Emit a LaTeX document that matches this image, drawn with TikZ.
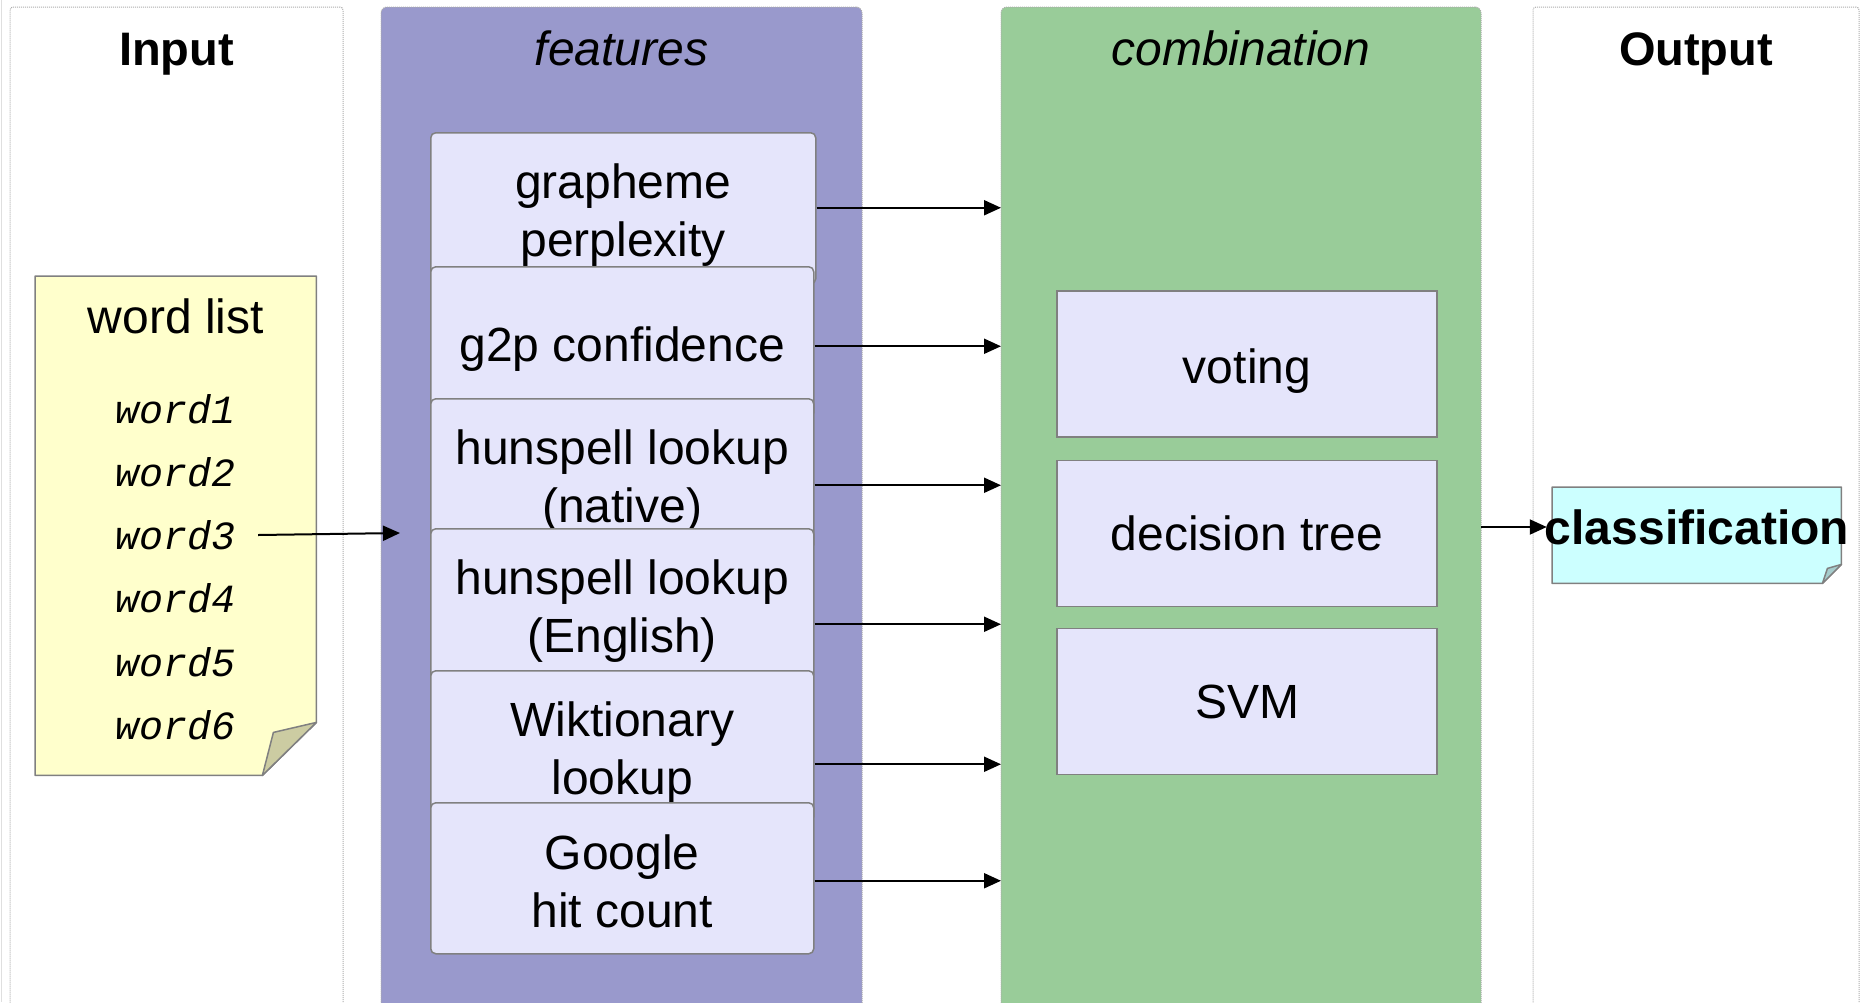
\documentclass[tikz,border=0pt]{standalone}
\usepackage{fontspec}
\setmainfont{Liberation Sans}
\newfontfamily\wordfont{Liberation Mono}
\usetikzlibrary{arrows.meta}

\definecolor{featfill}{RGB}{153,153,204}
\definecolor{combfill}{RGB}{153,204,153}
\definecolor{boxfill}{RGB}{229,229,251}
\definecolor{boxgray}{RGB}{128,128,128}
\definecolor{notefill}{RGB}{255,255,204}
\definecolor{noteflap}{RGB}{204,204,162}
\definecolor{clsfill}{RGB}{204,255,255}
\definecolor{clsflap}{RGB}{166,204,204}

\newcommand\labelsize{\fontsize{48}{58}\selectfont}
\newcommand\headsize{\fontsize{47}{56}\selectfont}
% extra room above the first line pushes box labels slightly below centre
\newcommand\topgap{\rule{0pt}{48pt}}
\newcommand\smallgap{\rule{0pt}{40pt}}

\tikzset{
  lane/.style={draw=gray!65, dash pattern=on 1pt off 1pt, line width=1pt,
    inner sep=0pt, outer sep=0pt, anchor=north west, minimum height=1040pt},
  header/.style={anchor=base, inner sep=0pt, font=\headsize},
  featbox/.style={draw=boxgray, fill=boxfill, line width=1.5pt, rounded corners=5pt,
    anchor=north west, minimum height=151pt, align=center, inner sep=0pt,
    font=\labelsize},
  combbox/.style={draw=boxgray, fill=boxfill, line width=1.5pt,
    minimum width=380pt, minimum height=146pt, inner sep=0pt, font=\labelsize},
  outline/.style={draw=boxgray, line width=1.5pt, line join=round},
  wordtext/.style={inner sep=0pt, font=\wordfont\itshape\fontsize{40}{48}\selectfont},
  arr/.style={-{Triangle[length=17pt,width=15pt]}, line width=2pt}
}

\begin{document}
\begin{tikzpicture}[x=1pt,y=1pt]
\useasboundingbox (0,0) rectangle (1862,-1002);
\clip (0,0) rectangle (1862,-1002);

% faint outer frame edge
\draw[gray!25, line width=1pt] (1,0) -- (1,-1002);

% swim lanes
\node[lane, rounded corners=3pt, minimum width=333pt] (inlane) at (10,-7) {};
\node[lane, rounded corners=6pt, fill=featfill, minimum width=481pt] (featlane) at (381,-7) {};
\node[lane, rounded corners=6pt, fill=combfill, minimum width=480pt] (comb) at (1001,-7) {};
\node[lane, rounded corners=3pt, minimum width=326pt] (outlane) at (1533,-7) {};

% lane headers
\node[header, font=\headsize\bfseries] (hin) at (inlane.north |- 0,-65) {Input};
\node[header, font=\labelsize\itshape] (hfeat) at (featlane.north |- 0,-65) {features};
\node[header, font=\labelsize\itshape] (hcomb) at (comb.north |- 0,-65) {combination};
\node[header, font=\headsize\bfseries] (hout) at (outlane.north |- 0,-65) {Output};

% word list note with folded corner
\node[minimum width=281pt, minimum height=499pt, inner sep=0pt, anchor=north west] (wl) at (35,-276) {};
\draw[outline, fill=notefill] (wl.north west) -- (wl.north east) -- ([yshift=53]wl.south east)
  -- ([xshift=-54]wl.south east) -- (wl.south west) -- cycle;
\draw[outline, fill=noteflap] ([xshift=-54]wl.south east) -- ([xshift=-43,yshift=43]wl.south east)
  -- ([yshift=53]wl.south east) -- cycle;
\node[inner sep=0pt, font=\labelsize] (wltitle) at (176,-316) {word list};
\node[wordtext] (w1) at (176,-409) {word1};
\node[wordtext] (w2) at (176,-472) {word2};
\node[wordtext] (w3) at (176,-535) {word3};
\node[wordtext] (w4) at (176,-598) {word4};
\node[wordtext] (w5) at (176,-662) {word5};
\node[wordtext] (w6) at (176,-725) {word6};

% feature boxes, each one laid over the previous
\node[featbox, minimum width=385pt] (f1) at (430,-132) {\topgap grapheme\\perplexity};
\node[featbox, minimum width=383pt] (f2) at (430,-266) {\topgap g2p confidence};
\node[featbox, minimum width=383pt] (f3) at (430,-398) {\topgap hunspell lookup\\(native)};
\node[featbox, minimum width=383pt] (f4) at (430,-528) {\topgap hunspell lookup\\(English)};
\node[featbox, minimum width=383pt] (f5) at (430,-670) {\topgap Wiktionary\\lookup};
\node[featbox, minimum width=383pt] (f6) at (430,-802) {\smallgap Google\\hit count};

% combination methods
\node[combbox] (vote) at (1247,-364) {\topgap voting};
\node[combbox] (tree) at (1247,-533.5) {decision tree};
\node[combbox] (svm) at (1247,-701.5) {SVM};

% classification note with folded corner
\node[minimum width=289pt, minimum height=96pt, inner sep=0pt, anchor=north west] (clsbox) at (1552,-487) {};
\draw[outline, fill=clsfill] (clsbox.north west) -- (clsbox.north east) -- ([yshift=19]clsbox.south east)
  -- ([xshift=-19]clsbox.south east) -- (clsbox.south west) -- cycle;
\draw[outline, fill=clsflap] ([xshift=-19]clsbox.south east) -- ([xshift=-14,yshift=15]clsbox.south east)
  -- ([yshift=19]clsbox.south east) -- cycle;
\node[inner sep=0pt, font=\labelsize\bfseries] (cls) at (1697,-527) {classification};

% connectors
\coordinate (wend) at (400,-533);
\draw[arr] ([xshift=22pt]w3.east) -- (wend);

\coordinate (s1) at ([yshift=0.5]f1.east);
\coordinate (s2) at ([yshift=-4]f2.east);
\coordinate (s3) at ([yshift=-11]f3.east);
\coordinate (s4) at ([yshift=-20]f4.east);
\coordinate (s5) at ([yshift=-18]f5.east);
\coordinate (s6) at ([yshift=-2.5]f6.east);
\foreach \s in {s1,s2,s3,s4,s5,s6}
  \draw[arr] (\s) -- (\s -| comb.west);

\draw[arr] (comb.east |- cls.west) -- ([xshift=2pt]cls.west);
\end{tikzpicture}
\end{document}
